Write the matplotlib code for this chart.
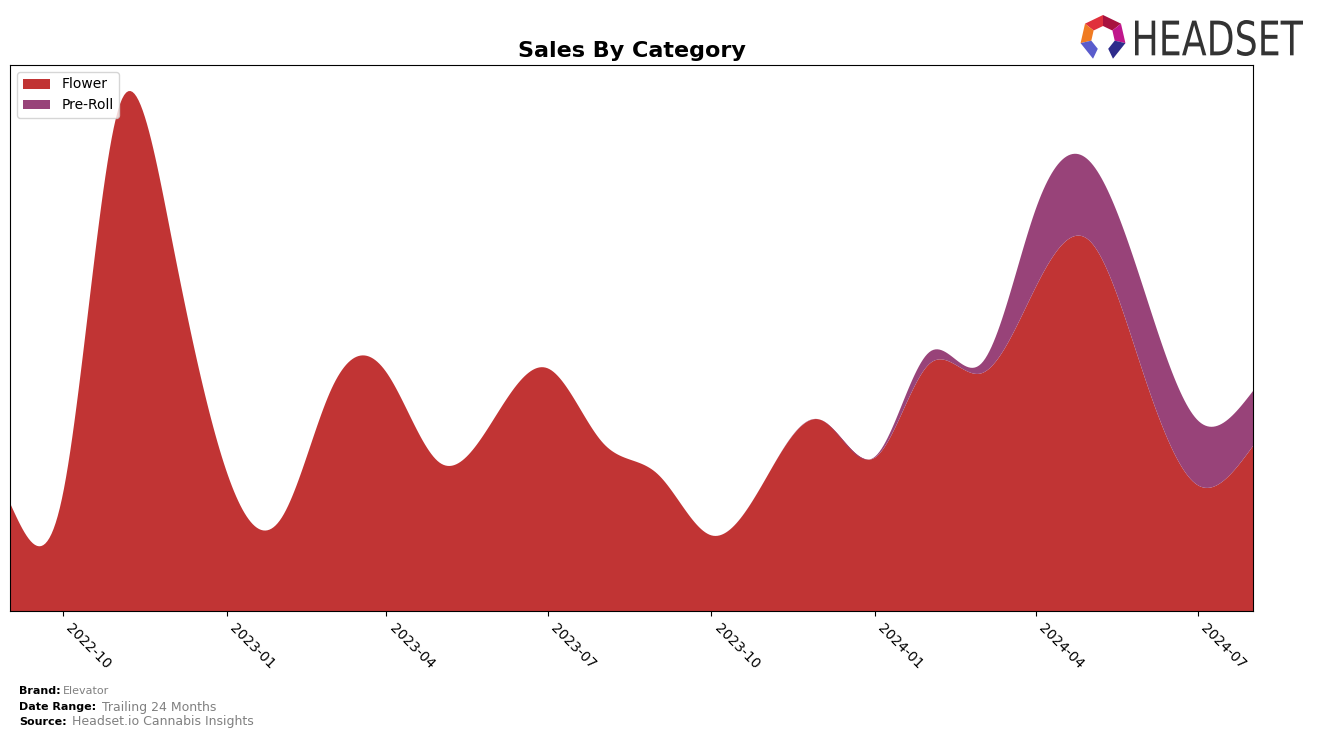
import numpy as np
import pandas as pd
import matplotlib
matplotlib.use('Agg')
import matplotlib.pyplot as plt
import matplotlib.dates as mdates
from matplotlib.textpath import TextPath
from matplotlib.patches import PathPatch, Polygon
from matplotlib.transforms import Affine2D
from matplotlib.font_manager import FontProperties

# monthly sales (relative units)
months = pd.date_range('2022-09-01', '2024-08-01', freq='MS')
flower = [110, 121, 511, 380, 142, 95, 226, 243, 151, 197, 247, 171,
          139, 77, 136, 195, 156, 252, 242, 331, 377, 238, 128, 168]
preroll = [0, 0, 0, 0, 0, 0, 0, 0, 0, 0, 0, 0,
           0, 0, 0, 0, 1, 12, 10, 80, 81, 87, 66, 56]
categories = ['Flower', 'Pre-Roll']
colors = ['#c13434', '#984379']

W, H = 1317, 739


def spline(x, y, xs):
    """Natural cubic spline through (x, y), evaluated at xs."""
    x = np.asarray(x, float)
    y = np.asarray(y, float)
    n = len(x)
    h = np.diff(x)
    A = np.zeros((n, n))
    b = np.zeros(n)
    A[0, 0] = 1
    A[-1, -1] = 1
    for i in range(1, n - 1):
        A[i, i - 1] = h[i - 1]
        A[i, i] = 2 * (h[i - 1] + h[i])
        A[i, i + 1] = h[i]
        b[i] = 6 * ((y[i + 1] - y[i]) / h[i] - (y[i] - y[i - 1]) / h[i - 1])
    M = np.linalg.solve(A, b)
    idx = np.clip(np.searchsorted(x, xs) - 1, 0, n - 2)
    x0, x1 = x[idx], x[idx + 1]
    hh = x1 - x0
    return (M[idx] * (x1 - xs) ** 3 / (6 * hh) + M[idx + 1] * (xs - x0) ** 3 / (6 * hh)
            + (y[idx] / hh - M[idx] * hh / 6) * (x1 - xs)
            + (y[idx + 1] / hh - M[idx + 1] * hh / 6) * (xs - x0))


xnum = mdates.date2num(months)
xs = np.linspace(xnum[0], xnum[-1], 600)
flower_s = spline(xnum, flower, xs)
preroll_s = spline(xnum, preroll, xs)

fig = plt.figure(figsize=(W / 100, H / 100), dpi=100)
ax = fig.add_axes([10 / W, 1 - 611 / H, (1253 - 10) / W, (611 - 65) / H])

ax.stackplot(xs, flower_s, preroll_s, labels=categories, colors=colors)
ax.set_xlim(xnum[0], xnum[-1])
ax.set_ylim(0, (flower_s + preroll_s).max() * 1.05)
ax.set_yticks([])
ax.xaxis.set_major_locator(mdates.MonthLocator(bymonth=[1, 4, 7, 10]))
ax.xaxis.set_major_formatter(mdates.DateFormatter('%Y-%m'))
plt.setp(ax.get_xticklabels(), rotation=-45, ha='left', fontsize=10)
ax.set_title('Sales By Category', fontsize=16, fontweight='bold', pad=6)
ax.legend(loc='upper left', fontsize=10)

# footer
fig.text(19 / W, 1 - 691 / H, 'Brand:', fontsize=8, fontweight='bold', va='center')
fig.text(63 / W, 1 - 691 / H, 'Elevator', fontsize=8, color='grey', va='center')
fig.text(19 / W, 1 - 707 / H, 'Date Range:', fontsize=8, fontweight='bold', va='center')
fig.text(102 / W, 1 - 707 / H, 'Trailing 24 Months', fontsize=9, color='grey', va='center')
fig.text(19 / W, 1 - 722 / H, 'Source:', fontsize=8, fontweight='bold', va='center')
fig.text(72 / W, 1 - 722 / H, 'Headset.io Cannabis Insights', fontsize=9, color='grey', va='center')

# logo: icon + wordmark, drawn in pixel units
lx0, ly0, lw, lh = 1078, 12, 228, 50
lax = fig.add_axes([lx0 / W, 1 - (ly0 + lh) / H, lw / W, lh / H])
lax.set_xlim(0, lw)
lax.set_ylim(lh, 0)
lax.axis('off')

cx, cy, r_out, r_in = 25, 26, 23, 12
seg = 360 / 7
ring = [(-90 - seg, '#e0303c'), (-90, '#a8123f'), (-90 + seg, '#c0168c'),
        (-90 + 2 * seg, '#2e2c8c'), (-90 - 2 * seg, '#f07b22'), (-90 - 3 * seg, '#5a5ccc')]
for a0, c in ring:
    a = np.radians([a0, a0 + seg])
    pts = [(cx + r_out * np.cos(a[0]), cy + r_out * np.sin(a[0])),
           (cx + r_out * np.cos(a[1]), cy + r_out * np.sin(a[1])),
           (cx + r_in * np.cos(a[1]), cy + r_in * np.sin(a[1])),
           (cx + r_in * np.cos(a[0]), cy + r_in * np.sin(a[0]))]
    lax.add_patch(Polygon(pts, closed=True, facecolor=c, edgecolor='none'))

tp = TextPath((0, 0), 'HEADSET', size=40, prop=FontProperties(family='DejaVu Sans'))
ext = tp.get_extents()
tx0, ty0, tx1, ty1 = 57, 8, 225, 44
tr = (Affine2D().translate(-ext.x0, -ext.y0)
      .scale((tx1 - tx0) / ext.width, -(ty1 - ty0) / ext.height)
      .translate(tx0, ty1))
lax.add_patch(PathPatch(tr.transform_path(tp), facecolor='#333333', edgecolor='none'))

fig.savefig('out.png', dpi=100)
